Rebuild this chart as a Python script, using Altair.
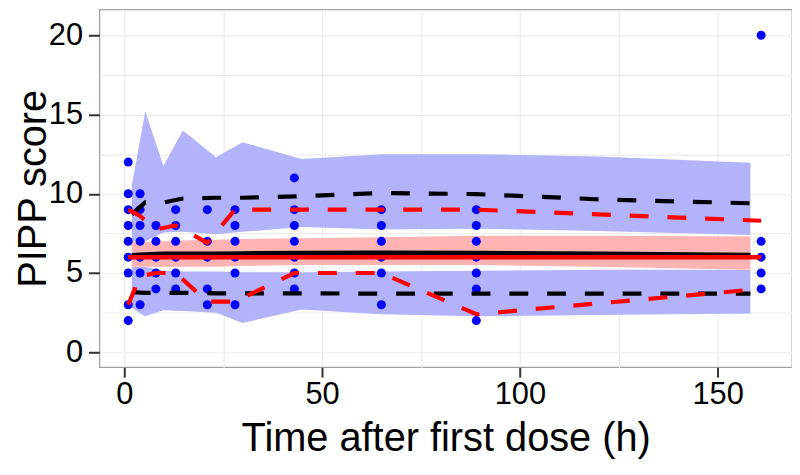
import altair as alt
import pandas as pd

# ---- simulated (model) percentile summaries, at bin times ----
sim_time = [1.9, 5.3, 9.9, 14.8, 23.2, 29.9, 44.8, 65, 89, 120, 158.3]
hi_band_top = [10.5, 15.2, 11.75, 14.0, 12.3, 13.25, 12.2, 12.5, 12.5, 12.35, 11.96]
hi_band_bot = [7.0, 7.0, 7.55, 7.6, 7.45, 7.6, 7.9, 7.75, 7.8, 7.65, 7.4]
med_band_top = [6.96, 6.96, 7.0, 7.05, 7.1, 7.15, 7.2, 7.25, 7.35, 7.35, 7.3]
med_band_bot = [5.4, 5.4, 5.4, 5.4, 5.4, 5.45, 5.5, 5.5, 5.5, 5.4, 5.2]
lo_band_top = [5.4, 5.4, 5.15, 5.1, 5.1, 5.05, 5.05, 5.1, 5.15, 5.2, 5.2]
lo_band_bot = [2.8, 2.27, 2.65, 2.6, 2.5, 1.85, 2.7, 2.4, 2.27, 2.35, 2.44]
sim_p95 = [8.7, 9.46, 9.45, 9.7, 9.75, 9.75, 9.85, 10.05, 9.98, 9.65, 9.4]
sim_p50 = [6.1, 6.15, 6.2, 6.2, 6.2, 6.22, 6.25, 6.27, 6.25, 6.2, 6.12]
sim_p05 = [3.8, 3.75, 3.75, 3.75, 3.72, 3.72, 3.72, 3.7, 3.7, 3.7, 3.7]

# ---- observed percentiles ----
obs_time = [1, 4, 8, 13, 21, 28, 43, 65, 89, 161]
obs_p95 = [9.0, 8.6, 7.75, 8.0, 6.9, 9.0, 9.0, 9.0, 9.0, 8.3]
obs_p50 = [6.0, 6.0, 6.0, 6.0, 6.0, 6.0, 6.0, 6.0, 6.0, 6.0]
obs_p05 = [3.0, 4.8, 5.0, 5.0, 3.2, 3.2, 5.0, 5.0, 2.4, 4.0]

# ---- observed PIPP scores ----
obs_scores = {
    1: [12, 10, 9, 8, 7, 6, 5, 3, 2],
    4: [10, 9, 8, 7, 6, 5, 3],
    8: [8, 7, 6, 5, 4],
    13: [9, 8, 7, 6, 5, 4],
    21: [9, 7, 6, 4, 3],
    28: [9, 8, 7, 6, 5, 3],
    43: [11, 9, 8, 7, 6, 5, 4],
    65: [9, 8, 7, 6, 5, 3],
    89: [9, 8, 7, 6, 5, 4, 2],
    161: [20, 7, 6, 5, 4],
}

x_ticks = [0, 25, 50, 75, 100, 125, 150]
y_ticks = [0, 2.5, 5, 7.5, 10, 12.5, 15, 17.5, 20]

bands = pd.concat([
    pd.DataFrame({"t": sim_time, "lo": hi_band_bot, "hi": hi_band_top, "band": "upper"}),
    pd.DataFrame({"t": sim_time, "lo": med_band_bot, "hi": med_band_top, "band": "median"}),
    pd.DataFrame({"t": sim_time, "lo": lo_band_bot, "hi": lo_band_top, "band": "lower"}),
])
sim = pd.concat([
    pd.DataFrame({"t": sim_time, "v": sim_p95, "stat": "p95"}),
    pd.DataFrame({"t": sim_time, "v": sim_p50, "stat": "p50"}),
    pd.DataFrame({"t": sim_time, "v": sim_p05, "stat": "p05"}),
])
obs = pd.concat([
    pd.DataFrame({"t": obs_time, "v": obs_p95, "stat": "p95"}),
    pd.DataFrame({"t": obs_time, "v": obs_p50, "stat": "p50"}),
    pd.DataFrame({"t": obs_time, "v": obs_p05, "stat": "p05"}),
])
pts = pd.DataFrame(
    [{"t": t, "v": s} for t, lst in obs_scores.items() for s in lst]
)

FONT = "Liberation Sans"
xs = alt.Scale(domain=[-6.28, 168.8], nice=False, zero=False)
ys = alt.Scale(domain=[-0.94, 21.63], nice=False, zero=False)

x_axis = alt.Axis(
    values=x_ticks,
    labelExpr="datum.value % 50 === 0 ? datum.label : ''",
    tickOpacity={"condition": {"test": "datum.value % 50 === 0", "value": 1}, "value": 0},
    grid=True, gridColor="#EBEBEB", gridWidth=1.2,
    domain=False, tickSize=10, tickWidth=2, tickColor="#333333",
    labelFont=FONT, labelFontSize=31, labelColor="#000000", labelPadding=3,
    labelFlush=False, labelOverlap=False,
    title="Time after first dose (h)", titleFont=FONT, titleFontSize=40,
    titleFontWeight="normal", titleColor="#000000",
    titleX=348.5, titleY=84, titleBaseline="alphabetic", titleAlign="center",
)
y_axis = alt.Axis(
    values=y_ticks,
    labelExpr="datum.value % 5 === 0 ? datum.label : ''",
    tickOpacity={"condition": {"test": "datum.value % 5 === 0", "value": 1}, "value": 0},
    grid=True, gridColor="#EBEBEB", gridWidth=1.2,
    domain=False, tickSize=11, tickWidth=2, tickColor="#333333",
    labelFont=FONT, labelFontSize=31, labelColor="#000000", labelPadding=6,
    labelFlush=False, labelOverlap=False,
    title="PIPP score", titleFont=FONT, titleFontSize=40,
    titleFontWeight="normal", titleColor="#000000",
    titleX=-54, titleY=180, titleBaseline="alphabetic", titleAlign="center",
    titleAngle=270,
)

X = alt.X("t:Q", scale=xs, axis=x_axis)
Y = alt.Y("v:Q", scale=ys, axis=y_axis)


def band_layer(name, color):
    return (
        alt.Chart(bands)
        .transform_filter(alt.datum.band == name)
        .mark_area(color=color, opacity=1)
        .encode(x=X, y=alt.Y("lo:Q", scale=ys, axis=y_axis), y2="hi:Q")
    )


BLUE_FILL = "#b3b3fc"
PINK_FILL = "#ffb3b3"

layers = [
    band_layer("upper", BLUE_FILL),
    band_layer("lower", BLUE_FILL),
    band_layer("median", PINK_FILL),
    alt.Chart(pts).mark_circle(size=82, color="#0000ff", opacity=1).encode(x=X, y=Y),
    alt.Chart(sim).transform_filter(alt.datum.stat != "p50")
    .mark_line(color="#000000", strokeWidth=4.2, strokeDash=[19, 19])
    .encode(x=X, y=Y, detail="stat:N"),
    alt.Chart(obs).transform_filter(alt.datum.stat != "p50")
    .mark_line(color="#ff0000", strokeWidth=4.2, strokeDash=[19, 19])
    .encode(x=X, y=Y, detail="stat:N"),
    alt.Chart(sim).transform_filter(alt.datum.stat == "p50")
    .mark_line(color="#000000", strokeWidth=5).encode(x=X, y=Y),
    alt.Chart(obs).transform_filter(alt.datum.stat == "p50")
    .mark_line(color="#ff0000", strokeWidth=4.5).encode(x=X, y=Y),
]

chart = (
    alt.layer(*layers)
    .properties(
        width=697, height=360,
        autosize=alt.AutoSizeParams(type="none"),
        padding={"left": 92, "top": 0, "right": 0, "bottom": 100},
        background="white",
    )
    .configure_view(stroke="#A0A0A0", strokeWidth=1.3)
)

chart.save("out.html", embed_options={"renderer": "svg", "actions": False})
